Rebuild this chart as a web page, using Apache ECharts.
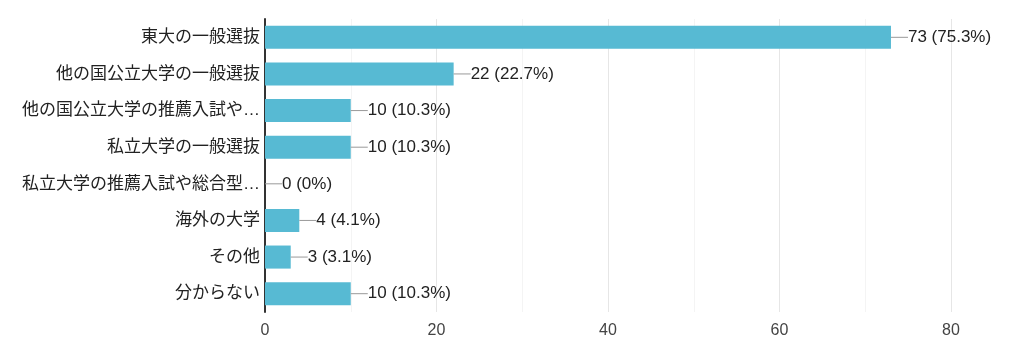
<!DOCTYPE html>
<html>
<head>
<meta charset="utf-8">
<script src="https://cdn.jsdelivr.net/npm/echarts@6/dist/echarts.min.js"></script>
<style>
  html, body { margin: 0; padding: 0; background: #fff; }
  #chart { width: 1024px; height: 352px; }
</style>
</head>
<body>
<div id="chart"></div>
<script>
// 回答項目（上から順）
var categories = [
  '東大の一般選抜',
  '他の国公立大学の一般選抜',
  '他の国公立大学の推薦入試や…',
  '私立大学の一般選抜',
  '私立大学の推薦入試や総合型…',
  '海外の大学',
  'その他',
  '分からない'
];
var counts = [73, 22, 10, 10, 0, 4, 3, 10];
var percents = ['75.3%', '22.7%', '10.3%', '10.3%', '0%', '4.1%', '3.1%', '10.3%'];
var xTicks = [0, 20, 40, 60, 80];

var FONT = '"Liberation Sans", Arial, "Noto Sans CJK JP", sans-serif';

var myChart = echarts.init(document.getElementById('chart'));

var option = {
  animation: false,
  backgroundColor: '#fff',
  grid: { left: 265, right: 73, top: 19, bottom: 40 },
  xAxis: {
    type: 'value',
    min: 0,
    max: 80,
    interval: 10,
    axisLine: { show: false },
    axisTick: { show: false },
    axisLabel: {
      color: '#444',
      fontSize: 16,
      fontFamily: FONT,
      margin: 11,
      formatter: function (v) {
        return xTicks.indexOf(v) >= 0 ? String(v) : '';
      }
    },
    splitLine: { lineStyle: { color: ['#e6e6e6', '#f4f4f4'], width: 1 } }
  },
  yAxis: {
    type: 'category',
    inverse: true,
    data: categories,
    axisLine: { show: true, lineStyle: { color: '#333', width: 2 } },
    axisTick: { show: false },
    axisLabel: {
      color: '#222',
      fontSize: 17,
      fontFamily: FONT,
      margin: 5
    }
  },
  series: [{
    type: 'bar',
    data: counts,
    barWidth: '63%',
    itemStyle: { color: '#57bad3' },
    label: {
      show: true,
      position: 'right',
      distance: 0,
      formatter: function (p) {
        return '{l|}{v|' + p.value + ' (' + percents[p.dataIndex] + ')}';
      },
      rich: {
        l: { width: 17, height: 1, backgroundColor: '#999' },
        v: { color: '#222', fontSize: 17, fontFamily: FONT }
      }
    }
  }]
};

myChart.setOption(option);
</script>
</body>
</html>
